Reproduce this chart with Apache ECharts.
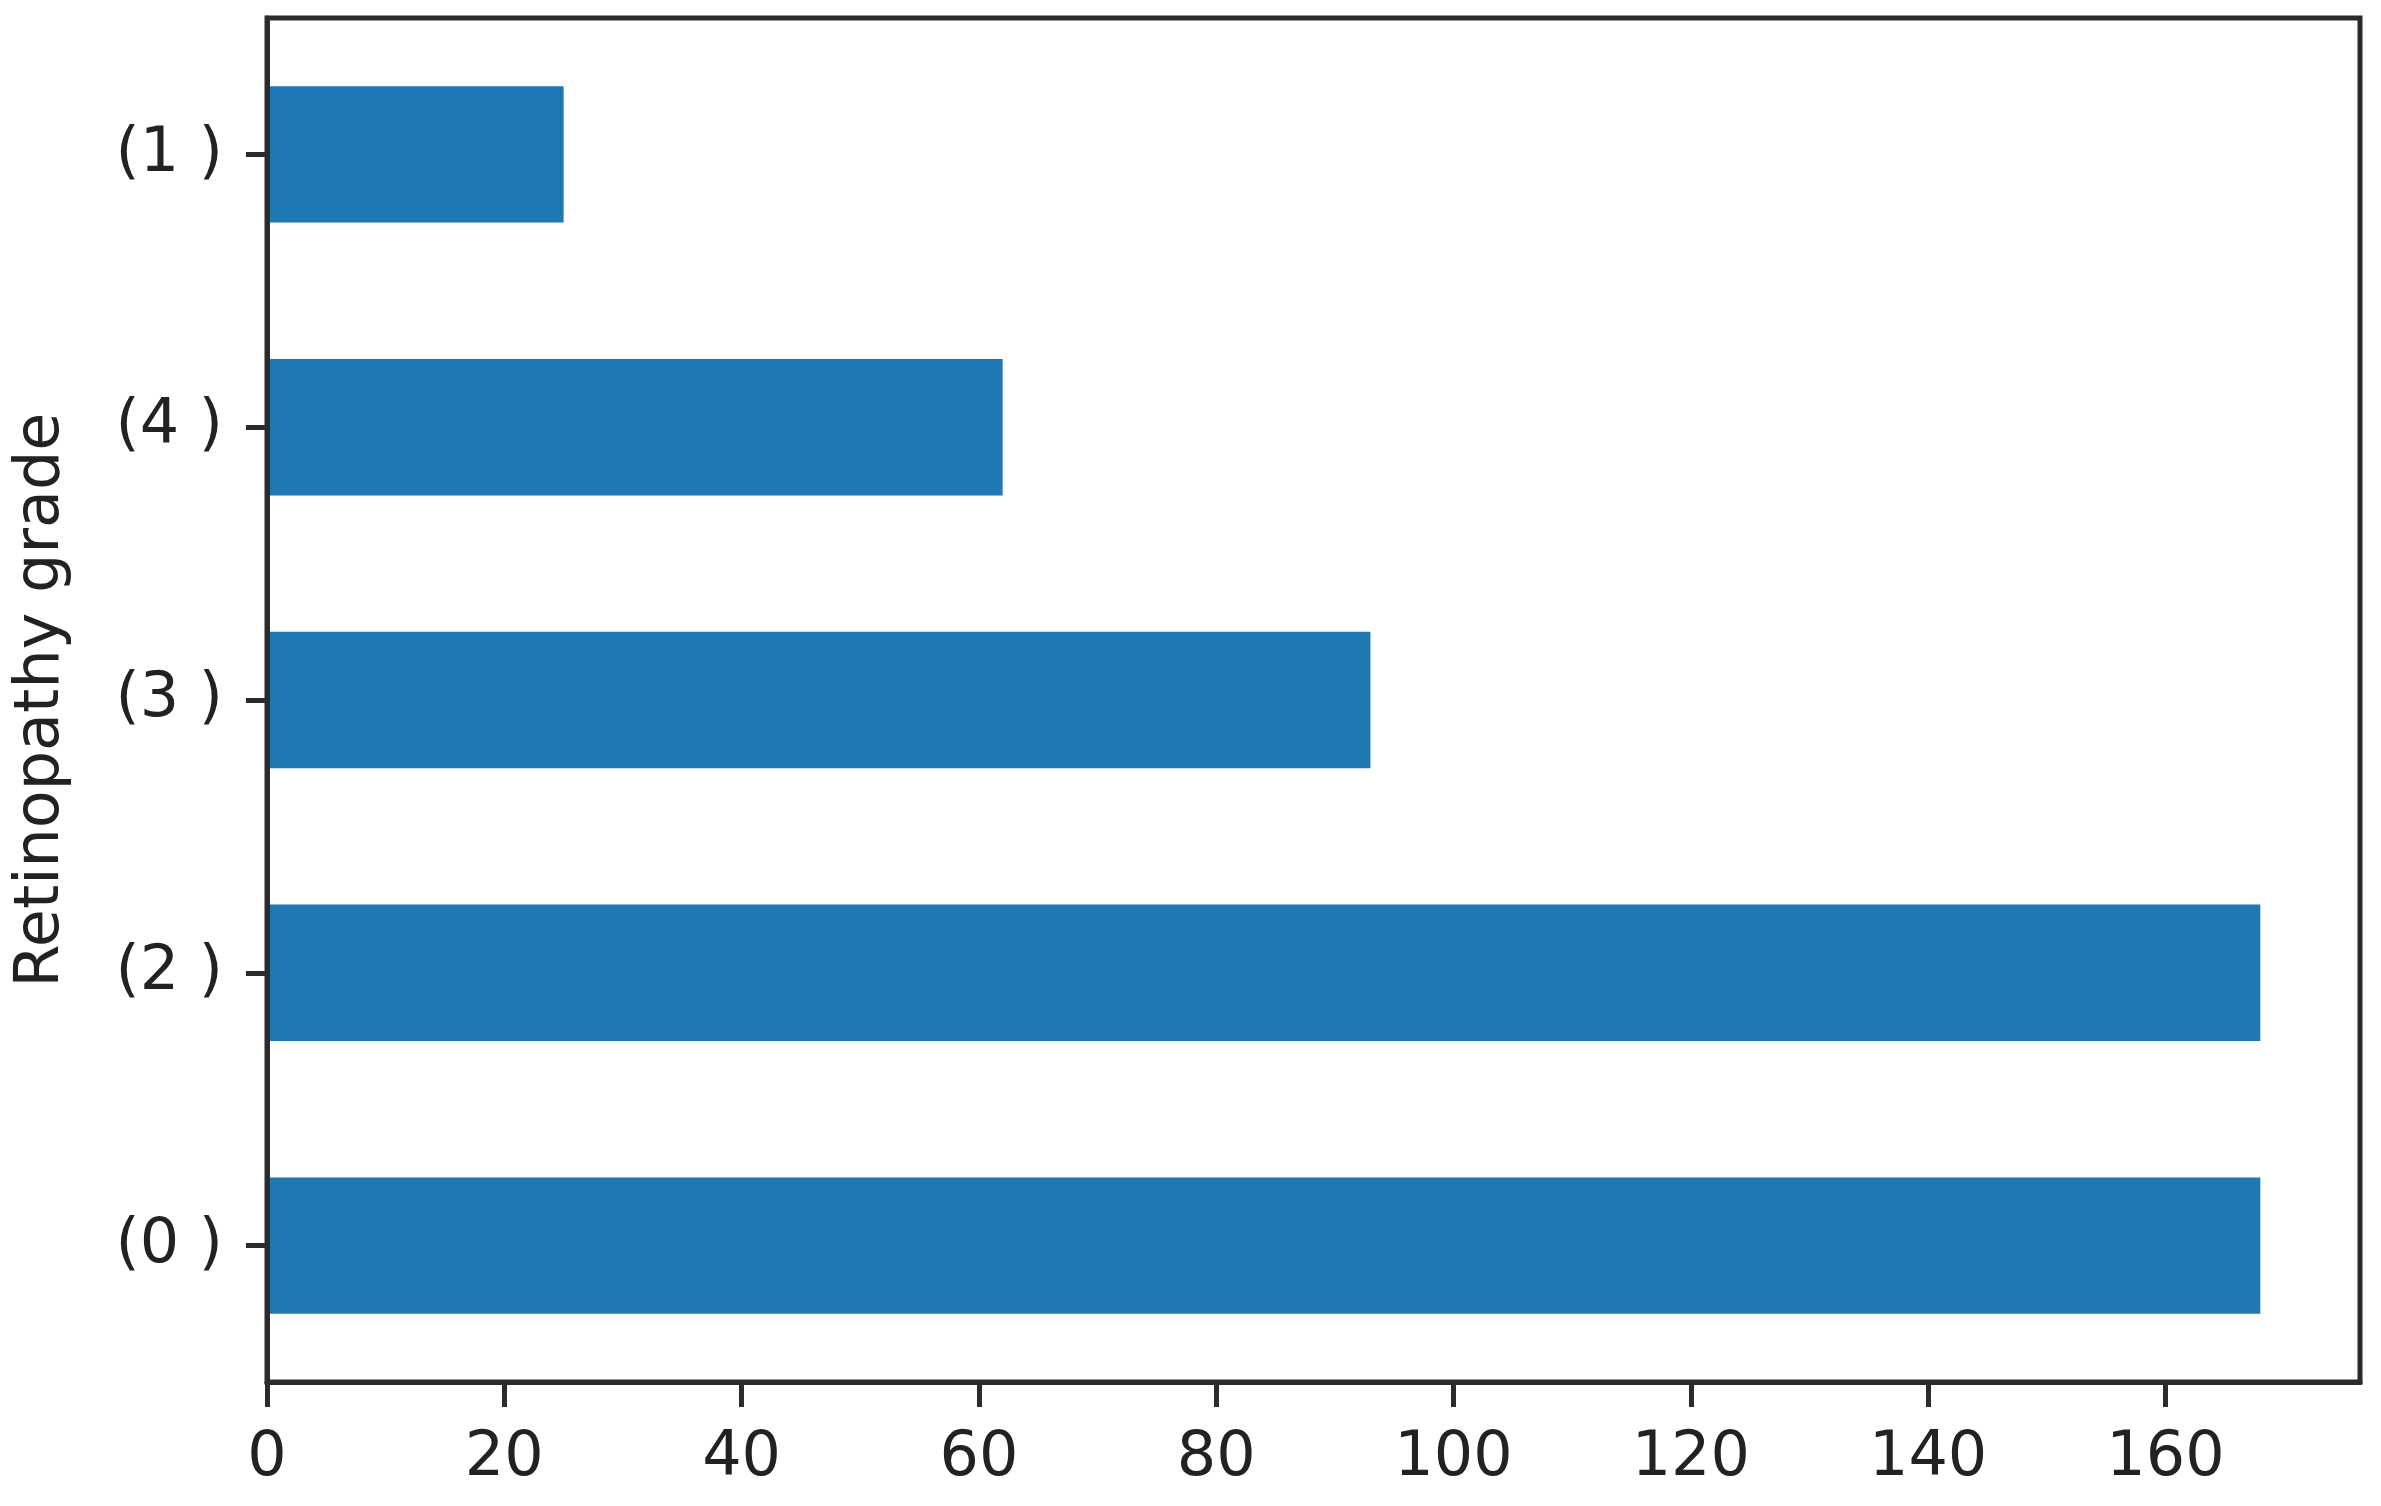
<!DOCTYPE html>
<html>
<head>
<meta charset="utf-8">
<script src="https://cdn.jsdelivr.net/npm/echarts@6/dist/echarts.min.js"></script>
<style>
html, body { margin: 0; padding: 0; background: #fff; }
#chart { width: 2381px; height: 1506px; }
</style>
</head>
<body>
<div id="chart"></div>
<script>
// categories bottom -> top (category axis starts at the bottom)
var gradeLabels = ['(0 )', '(2 )', '(3 )', '(4 )', '(1 )'];
var gradeCounts = [168, 168, 93, 62, 25];
var xTicks = [0, 20, 40, 60, 80, 100, 120, 140, 160];
var xMax = 176.4;

var ink = '#2b2b2b';
var fontName = 'DejaVu Sans';

var chart = echarts.init(document.getElementById('chart'));
var option = {
	animation: false,
	backgroundColor: '#fff',
	grid: {
		left: 267,
		right: 21,
		top: 18,
		bottom: 124,
		show: true,
		borderColor: ink,
		borderWidth: 5,
		backgroundColor: 'transparent'
	},
	xAxis: {
		type: 'value',
		min: 0,
		max: xMax,
		interval: 20,
		z: 5,
		splitLine: { show: false },
		axisLine: { show: true, lineStyle: { color: ink, width: 5 } },
		axisTick: { show: true, length: 25, lineStyle: { color: ink, width: 5 } },
		axisLabel: {
			color: '#222',
			fontFamily: fontName,
			fontSize: 62,
			margin: 46,
			showMaxLabel: false,
			formatter: function(v) {
				return xTicks.indexOf(v) >= 0 ? String(v) : '';
			}
		}
	},
	yAxis: {
		type: 'category',
		data: gradeLabels,
		z: 5,
		name: 'Retinopathy grade',
		nameLocation: 'middle',
		nameGap: 194,
		nameRotate: 90,
		nameTextStyle: { color: '#222', fontFamily: fontName, fontSize: 62 },
		axisLine: { show: true, lineStyle: { color: ink, width: 5 } },
		axisTick: { show: true, alignWithLabel: true, length: 21, lineStyle: { color: ink, width: 5 } },
		axisLabel: { color: '#222', fontFamily: fontName, fontSize: 62, margin: 44 }
	},
	series: [{
		type: 'bar',
		data: gradeCounts,
		barWidth: '50%',
		itemStyle: { color: '#1f77b4' }
	}]
};
chart.setOption(option);
</script>
</body>
</html>
